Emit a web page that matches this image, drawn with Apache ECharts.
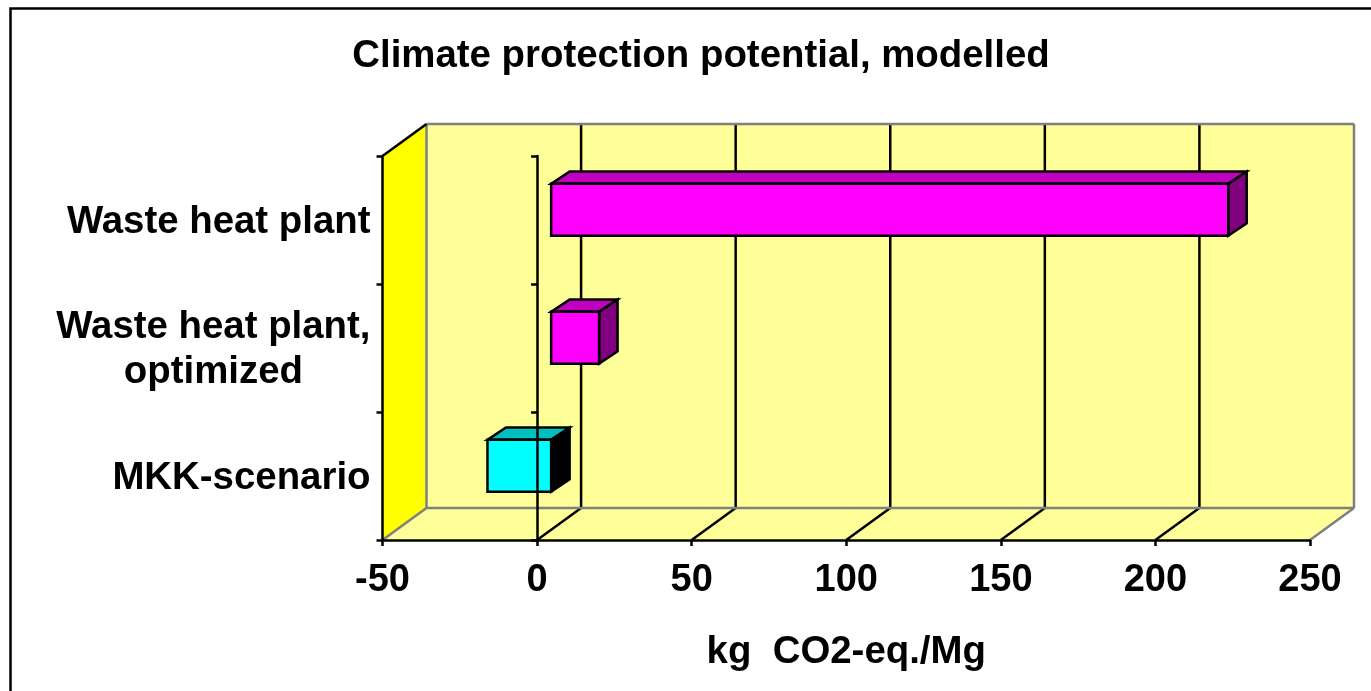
<!DOCTYPE html>
<html>
<head>
<meta charset="utf-8">
<style>html,body{margin:0;padding:0;background:#fff;overflow:hidden}#c{width:1371px;height:691px}</style>
<script src="https://cdn.jsdelivr.net/npm/echarts@6/dist/echarts.min.js"></script>
</head>
<body>
<div id="c"></div>
<script>
const categories = ['Waste heat plant', 'Waste heat plant,\noptimized', 'MKK-scenario'];
const values = [219, 15.5, -20.6];
const xTicks = [-50, 0, 50, 100, 150, 200, 250];
const titleText = 'Climate protection potential, modelled';
const xName = 'kg  CO2-eq./Mg';
const faceColors = ['#FF00FF', '#FF00FF', '#00FFFF'];
const topColors = ['#BF00BF', '#BF00BF', '#00BFBF'];
const sideColors = ['#800080', '#800080', '#000000'];

const DX = 44, DY = -32;           // oblique projection of the full depth
const BAR_START = 0.32, BAR_DEPTH = 0.42, BAR_BAND = 0.405;
const FONT = '"Liberation Sans", Arial, sans-serif';
const FS = 38, FS_WIDE = 38.4, LW = 2.5;
const GREY = '#808080', WALL = '#FFFF99', SIDE = '#FFFF00';
const poly = (pts, fill, stroke, lw) => ({type: 'polygon', shape: {points: pts},
  style: {fill: fill, stroke: stroke, lineWidth: lw, lineJoin: 'miter'}});
const seg = (a, b, stroke, lw) => ({type: 'line', shape: {x1: a[0], y1: a[1], x2: b[0], y2: b[1]},
  style: {stroke: stroke, lineWidth: lw, fill: null}});

function renderWalls(params, api) {
  const c = params.coordSys, l = c.x, r = c.x + c.width, t = c.y, b = c.y + c.height;
  const kids = [
    poly([[l, t], [l + DX, t + DY], [l + DX, b + DY], [l, b]], SIDE, null, 0),
    poly([[l + DX, t + DY], [r + DX, t + DY], [r + DX, b + DY], [l + DX, b + DY]], WALL, null, 0),
    poly([[l, b], [r, b], [r + DX, b + DY], [l + DX, b + DY]], WALL, null, 0)
  ];
  xTicks.slice(1, -1).forEach(v => {
    const x = api.coord([v, 0])[0];
    kids.push(seg([x + DX, t + DY], [x + DX, b + DY], '#000', LW));
    kids.push(seg([x, b], [x + DX, b + DY], '#000', LW));
  });
  kids.push(seg([l + DX, t + DY], [r + DX, t + DY], GREY, LW));
  kids.push(seg([r + DX, t + DY], [r + DX, b + DY], GREY, LW));
  kids.push(seg([l + DX, b + DY], [r + DX, b + DY], GREY, LW));
  kids.push(seg([l + DX, t + DY], [l + DX, b + DY], GREY, LW));
  kids.push(seg([l, b], [l + DX, b + DY], GREY, LW));
  kids.push(seg([r, b], [r + DX, b + DY], GREY, LW));
  kids.push(seg([l, t], [l + DX, t + DY], '#000', LW));
  return {type: 'group', children: kids};
}

function renderBar(params, api) {
  const i = params.dataIndex;
  const p0 = api.coord([0, i]), p1 = api.coord([api.value(0), i]);
  const band = api.size([0, 1])[1] * BAR_BAND;
  const ox = DX * BAR_START, oy = DY * BAR_START, dx = DX * BAR_DEPTH, dy = DY * BAR_DEPTH * 0.92;
  const x1 = Math.min(p0[0], p1[0]) + ox, x2 = Math.max(p0[0], p1[0]) + ox;
  const y1 = p0[1] + oy - band / 2, y2 = p0[1] + oy + band / 2;
  return {type: 'group', children: [
    poly([[x1, y1], [x2, y1], [x2 + dx, y1 + dy], [x1 + dx, y1 + dy]], topColors[i], '#000', LW),
    poly([[x2, y1], [x2 + dx, y1 + dy], [x2 + dx, y2 + dy], [x2, y2]], sideColors[i], '#000', LW),
    poly([[x1, y1], [x2, y1], [x2, y2], [x1, y2]], faceColors[i], '#000', LW)
  ]};
}

const chart = echarts.init(document.getElementById('c'), null, {renderer: 'canvas'});
chart.setOption({
  animation: false,
  backgroundColor: '#fff',
  graphic: [{type: 'rect', silent: true, shape: {x: 10.5, y: 8.5, width: 1500, height: 900},
    style: {fill: null, stroke: '#000', lineWidth: 2.5}}],
  title: {text: titleText, left: 696, top: 32, textAlign: 'center',
    textStyle: {fontFamily: FONT, fontWeight: 'bold', fontSize: FS_WIDE, color: '#000'}},
  grid: {left: 382.5, top: 156, width: 927.5, height: 384, containLabel: false},
  xAxis: {type: 'value', min: -50, max: 250, interval: 50, z: 10,
    name: xName, nameLocation: 'middle', nameGap: 93,
    nameTextStyle: {fontFamily: FONT, fontWeight: 'bold', fontSize: FS_WIDE, color: '#000'},
    axisLine: {show: true, onZero: false, lineStyle: {color: '#000', width: LW}},
    axisTick: {show: true, length: 6, lineStyle: {color: '#000', width: LW}},
    axisLabel: {fontFamily: FONT, fontWeight: 'bold', fontSize: FS, color: '#000', margin: 22,
      showMinLabel: true, showMaxLabel: true},
    splitLine: {show: false}},
  yAxis: [{type: 'category', inverse: true, data: categories, z: 10,
      axisLine: {show: true, onZero: false, lineStyle: {color: '#000', width: LW}},
      axisTick: {show: true, length: 6, lineStyle: {color: '#000', width: LW}},
      axisLabel: {fontFamily: FONT, fontWeight: 'bold', fontSize: FS_WIDE, color: '#000', margin: 12,
        lineHeight: 45, interval: 0, padding: [4, 0, 0, 0],
        formatter: v => v.split('\n').map(s => '{c|' + s + '}').join('\n'),
        rich: {c: {align: 'center', fontFamily: FONT, fontWeight: 'bold', fontSize: FS_WIDE, color: '#000', lineHeight: 45}}},
      splitLine: {show: false}},
    {type: 'category', inverse: true, data: categories, z: 10, position: 'left',
      axisLine: {show: true, onZero: true, lineStyle: {color: '#000', width: LW}},
      axisTick: {show: true, length: 6, lineStyle: {color: '#000', width: LW}},
      axisLabel: {show: false}, splitLine: {show: false}}],
  series: [
    {type: 'custom', name: 'walls', z: 1, silent: true, data: [[0, 0]], renderItem: renderWalls,
      encode: {x: 0, y: 1}, clip: false},
    {type: 'custom', name: 'bars', z: 2, silent: true, renderItem: renderBar, clip: false,
      data: values.map((v, i) => [v, i]), encode: {x: 0, y: 1}}
  ]
});
</script>
</body>
</html>
